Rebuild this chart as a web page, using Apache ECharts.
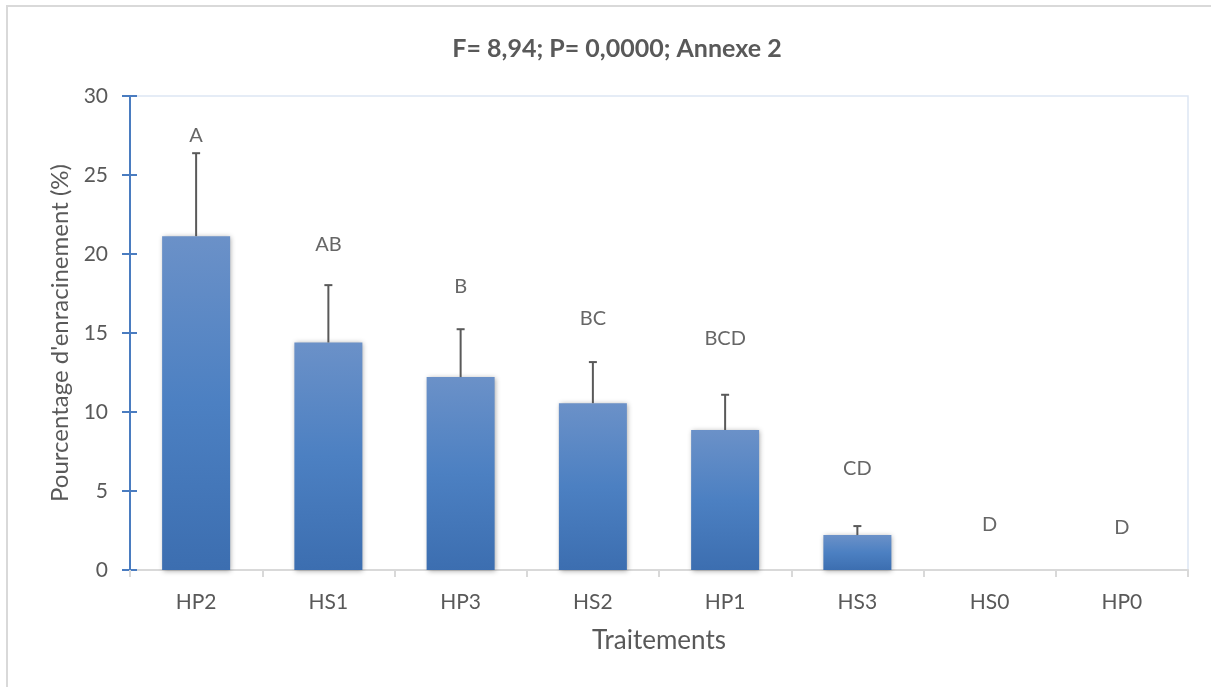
<!DOCTYPE html>
<html>
<head>
<meta charset="utf-8">
<script src="https://cdn.jsdelivr.net/npm/echarts@6/dist/echarts.min.js"></script>
<style>
html,body{margin:0;padding:0;background:#fff;}
#chart{width:1211px;height:687px;}
</style>
</head>
<body>
<div id="chart"></div>
<script>
const categories = ['HP2','HS1','HP3','HS2','HP1','HS3','HS0','HP0'];
const means = [21.13, 14.40, 12.21, 10.56, 8.86, 2.21, 0, 0];
const errorTops = [26.38, 18.03, 15.24, 13.16, 11.09, 2.78, 0, 0];
const letters = ['A','AB','B','BC','BCD','CD','D','D'];
const letterY = [27.5, 20.6, 17.97, 15.94, 14.67, 6.39, 2.9, 2.7];
const yTicks = { min: 0, max: 30, interval: 5 };

const FONT = 'Lato, "Open Sans", sans-serif';
const chart = echarts.init(document.getElementById('chart'));

const errData = means.map((m, i) => [i, m, errorTops[i]]);
const letterData = letterY.map((y, i) => [i, y, letters[i]]);

chart.setOption({
  backgroundColor: '#fff',
  animation: false,
  title: {
    text: 'F= 8,94; P= 0,0000; Annexe 2',
    left: 612, top: 31, textAlign: 'center',
    textStyle: { fontFamily: FONT, fontSize: 25, fontWeight: 'bold', color: '#595959' }
  },
  graphic: [
    { type: 'rect', shape: { x: 7, y: 6, width: 1220, height: 700 }, style: { fill: 'none', stroke: '#d9d9d9', lineWidth: 2 }, silent: true },
    { type: 'rect', shape: { x: 130, y: 96, width: 1058, height: 474 }, style: { fill: 'none', stroke: '#dde6f3', lineWidth: 1.5 }, silent: true, z: -1 }
  ],
  grid: { left: 130, right: 23, top: 96, bottom: 117, containLabel: false },
  xAxis: {
    type: 'category',
    data: categories,
    name: 'Traitements',
    nameLocation: 'middle',
    nameGap: 58,
    nameTextStyle: { fontFamily: FONT, fontSize: 26, color: '#595959' },
    axisLine: { lineStyle: { color: '#d9d9d9', width: 2 } },
    axisTick: { show: true, length: 7, lineStyle: { color: '#d9d9d9', width: 2 } },
    axisLabel: { fontFamily: FONT, fontSize: 21, color: '#595959', margin: 22 }
  },
  yAxis: [{
    type: 'value',
    min: yTicks.min, max: yTicks.max, interval: yTicks.interval,
    name: "Pourcentage d'enracinement (%)",
    nameLocation: 'middle',
    nameGap: 56,
    nameTextStyle: { fontFamily: FONT, fontSize: 24, color: '#595959' },
    axisLine: { show: true, lineStyle: { color: '#4a7cc0', width: 2 } },
    axisTick: { show: true, length: 8, lineStyle: { color: '#4a7cc0', width: 2 } },
    axisLabel: { fontFamily: FONT, fontSize: 21, color: '#595959', margin: 22 },
    splitLine: { show: false }
  }, {
    type: 'value', position: 'left',
    min: yTicks.min, max: yTicks.max, interval: yTicks.interval,
    axisLine: { show: false },
    axisTick: { show: true, inside: true, length: 7, lineStyle: { color: '#4a7cc0', width: 2 } },
    axisLabel: { show: false },
    splitLine: { show: false }
  }],
  series: [
    {
      type: 'bar',
      data: means,
      barWidth: 68,
      itemStyle: {
        color: new echarts.graphic.LinearGradient(0, 0, 0, 1, [
          { offset: 0, color: '#6b91c8' },
          { offset: 0.5, color: '#4c80c2' },
          { offset: 1, color: '#3c6eb0' }
        ]),
        shadowColor: 'rgba(0,0,0,0.35)',
        shadowBlur: 5,
        shadowOffsetX: 1,
        shadowOffsetY: 1
      },
      z: 2
    },
    {
      type: 'custom',
      data: errData,
      z: 3,
      renderItem: function (params, api) {
        const i = api.value(0);
        const lo = api.value(1);
        const hi = api.value(2);
        if (hi <= lo) return null;
        const p1 = api.coord([i, lo]);
        const p2 = api.coord([i, hi]);
        const cap = 4;
        const style = { stroke: '#595959', lineWidth: 2 };
        return {
          type: 'group',
          children: [
            { type: 'line', shape: { x1: p1[0], y1: p1[1], x2: p2[0], y2: p2[1] }, style: style },
            { type: 'line', shape: { x1: p2[0] - cap, y1: p2[1], x2: p2[0] + cap, y2: p2[1] }, style: style }
          ]
        };
      }
    },
    {
      type: 'scatter',
      data: letterData,
      symbolSize: 0,
      z: 4,
      label: {
        show: true,
        position: 'inside',
        formatter: function (p) { return p.value[2]; },
        fontFamily: FONT, fontSize: 20, color: '#404040'
      }
    }
  ]
});
</script>
</body>
</html>
